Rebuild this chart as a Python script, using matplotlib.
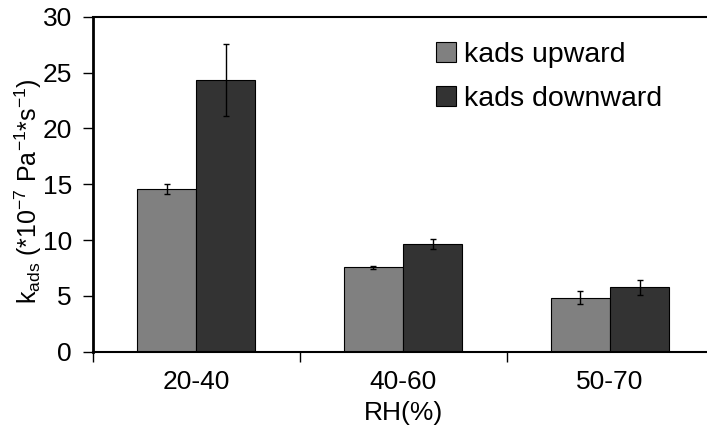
import numpy as np
import matplotlib
matplotlib.use("Agg")
import matplotlib.pyplot as plt

plt.rcParams['font.family'] = ['Liberation Sans', 'DejaVu Sans']
plt.rcParams['mathtext.fontset'] = 'custom'
plt.rcParams['mathtext.rm'] = 'Liberation Sans'
plt.rcParams['mathtext.it'] = 'Liberation Sans'
plt.rcParams['mathtext.default'] = 'regular'

categories = ['20-40', '40-60', '50-70']
upward = [14.55, 7.55, 4.85]
upward_err = [0.43, 0.15, 0.58]
downward = [24.35, 9.65, 5.75]
downward_err = [3.25, 0.42, 0.65]
labels = ['kads upward', 'kads downward']
colors = ['#808080', '#333333']

fig = plt.figure(figsize=(7.07, 4.25), dpi=100)
ax = fig.add_axes([0.1311, 0.1725, 0.878, 0.788])

x = np.arange(len(categories))
w = 0.2865
ax.bar(x - w / 2, upward, w, yerr=upward_err, color=colors[0], edgecolor='black',
       linewidth=0.8, label=labels[0],
       error_kw=dict(ecolor='black', elinewidth=1, capsize=2.5, capthick=1))
ax.bar(x + w / 2, downward, w, yerr=downward_err, color=colors[1], edgecolor='black',
       linewidth=0.8, label=labels[1],
       error_kw=dict(ecolor='black', elinewidth=1, capsize=2.5, capthick=1))

ax.set_xlim(-0.5, 2.5)
ax.set_ylim(0, 30)
ax.set_yticks([0, 5, 10, 15, 20, 25, 30])
ax.set_xticks(x)
ax.set_xticklabels(categories)
ax.set_xticks([-0.5, 0.5, 1.5, 2.5], minor=True)
ax.tick_params(axis='x', which='major', length=0, pad=13, labelsize=19)
ax.tick_params(axis='x', which='minor', length=7, width=1, direction='out')
ax.tick_params(axis='y', length=7, width=1, direction='out', pad=8, labelsize=19)

ax.spines['right'].set_visible(False)
ax.spines['left'].set_linewidth(2)
ax.spines['top'].set_linewidth(1.5)
ax.spines['bottom'].set_linewidth(1.5)

ax.set_xlabel('RH(%)', fontsize=19, labelpad=5)
ax.set_ylabel(r'k$_{ads}$ (*10$^{-7}$ Pa$^{-1}$*s$^{-1}$)', fontsize=18)
ax.yaxis.set_label_coords(-0.079, 0.48)

ax.legend(loc='upper left', bbox_to_anchor=(0.553, 0.925), frameon=False,
          fontsize=20.5, handlelength=0.7, handleheight=0.7, handletextpad=0.3,
          labelspacing=0.62, borderpad=0, borderaxespad=0)

fig.savefig('out.png', dpi=100)
